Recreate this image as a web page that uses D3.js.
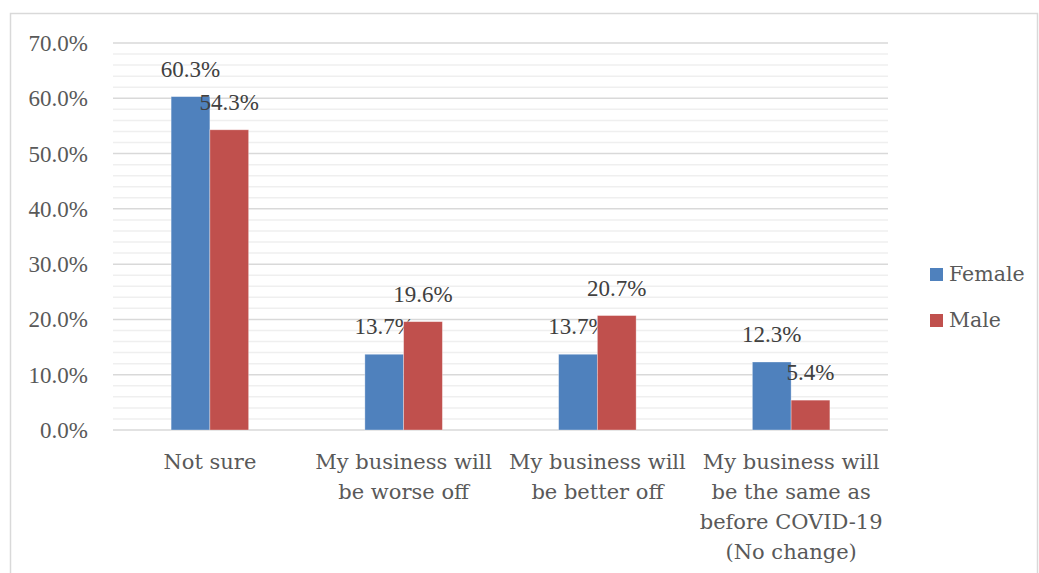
<!DOCTYPE html>
<html>
<head>
<meta charset="utf-8">
<script src="https://cdn.jsdelivr.net/npm/d3@7"></script>
<style>
  body { margin: 0; background: #fff; }
  text { font-family: "Liberation Serif", "DejaVu Serif", serif; fill: #595959; }
  .words { font-family: "DejaVu Serif", "Liberation Serif", serif; }
</style>
</head>
<body>
<svg id="chart"></svg>
<script>
// data
var categories = [
  ["Not sure"],
  ["My business will", "be worse off"],
  ["My business will", "be better off"],
  ["My business will", "be the same as", "before COVID-19", "(No change)"]
];
var seriesNames = ["Female", "Male"];
var female = [60.3, 13.7, 13.7, 12.3];
var male = [54.3, 19.6, 20.7, 5.4];
var colors = ["#4F81BD", "#C0504D"];

var width = 1039, height = 573;
var svg = d3.select("#chart").attr("width", width).attr("height", height);

// chart frame
svg.append("rect")
  .attr("x", 10.5).attr("y", 13.5)
  .attr("width", 1027).attr("height", 600)
  .attr("fill", "none").attr("stroke", "#d9d9d9").attr("stroke-width", 1.5);

var plotL = 113, plotR = 888, plotT = 43, plotB = 430;

var y = d3.scaleLinear().domain([0, 70]).range([plotB, plotT]);
var x0 = d3.scaleBand().domain(d3.range(categories.length)).range([plotL, plotR]);
var groupW = x0.bandwidth() * 0.4;
var x1 = d3.scaleBand().domain(seriesNames).range([0, groupW]);

// minor gridlines
svg.append("g").selectAll("line")
  .data(d3.range(0, 70.1, 2).filter(function (v) { return v % 10 !== 0; }))
  .enter().append("line")
  .attr("x1", plotL).attr("x2", plotR)
  .attr("y1", function (d) { return y(d); }).attr("y2", function (d) { return y(d); })
  .attr("stroke", "#efefef").attr("stroke-width", 1.5);

// major gridlines
var ticks = d3.range(0, 70.1, 10);
svg.append("g").selectAll("line")
  .data(ticks)
  .enter().append("line")
  .attr("x1", plotL).attr("x2", plotR)
  .attr("y1", function (d) { return y(d); }).attr("y2", function (d) { return y(d); })
  .attr("stroke", "#d9d9d9").attr("stroke-width", 1.5);

// y tick labels
svg.append("g").selectAll("text")
  .data(ticks)
  .enter().append("text")
  .attr("x", 88).attr("y", function (d) { return y(d); })
  .attr("dy", "0.35em")
  .attr("text-anchor", "end")
  .style("font-size", "23px")
  .text(function (d) { return d.toFixed(1) + "%"; });

// bars
var series = [female, male];
series.forEach(function (vals, s) {
  var g = svg.append("g");
  var off = function (i) { return x0(i) + (x0.bandwidth() - groupW) / 2 + x1(seriesNames[s]); };
  g.selectAll("rect")
    .data(vals)
    .enter().append("rect")
    .attr("x", function (d, i) { return off(i); })
    .attr("y", function (d) { return y(d); })
    .attr("width", x1.bandwidth())
    .attr("height", function (d) { return plotB - y(d); })
    .attr("fill", colors[s])
    .attr("stroke", "#ffffff").attr("stroke-opacity", 0.4).attr("stroke-width", 0.8);
  g.selectAll("text")
    .data(vals)
    .enter().append("text")
    .attr("x", function (d, i) { return off(i) + x1.bandwidth() / 2; })
    .attr("y", function (d) { return y(d) - 20; })
    .attr("text-anchor", "middle")
    .style("font-size", "23px")
    .style("fill", "#404040")
    .text(function (d) { return d.toFixed(1) + "%"; });
});

// category labels
var cat = svg.append("g").selectAll("text")
  .data(categories)
  .enter().append("text")
  .attr("class", "words")
  .attr("text-anchor", "middle")
  .style("font-size", "21px")
  .attr("transform", function (d, i) { return "translate(" + (x0(i) + x0.bandwidth() / 2) + ",469)"; });
cat.selectAll("tspan")
  .data(function (d) { return d; })
  .enter().append("tspan")
  .attr("x", 0)
  .attr("y", function (d, i) { return i * 30; })
  .text(function (d) { return d; });

// legend
var leg = svg.append("g").selectAll("g")
  .data(seriesNames)
  .enter().append("g")
  .attr("transform", function (d, i) { return "translate(930," + (268 + i * 46) + ")"; });
leg.append("rect")
  .attr("width", 13).attr("height", 13)
  .attr("fill", function (d, i) { return colors[i]; });
leg.append("text")
  .attr("class", "words")
  .attr("x", 19).attr("y", 13)
  .style("font-size", "20.5px")
  .text(function (d) { return d; });
</script>
</body>
</html>
